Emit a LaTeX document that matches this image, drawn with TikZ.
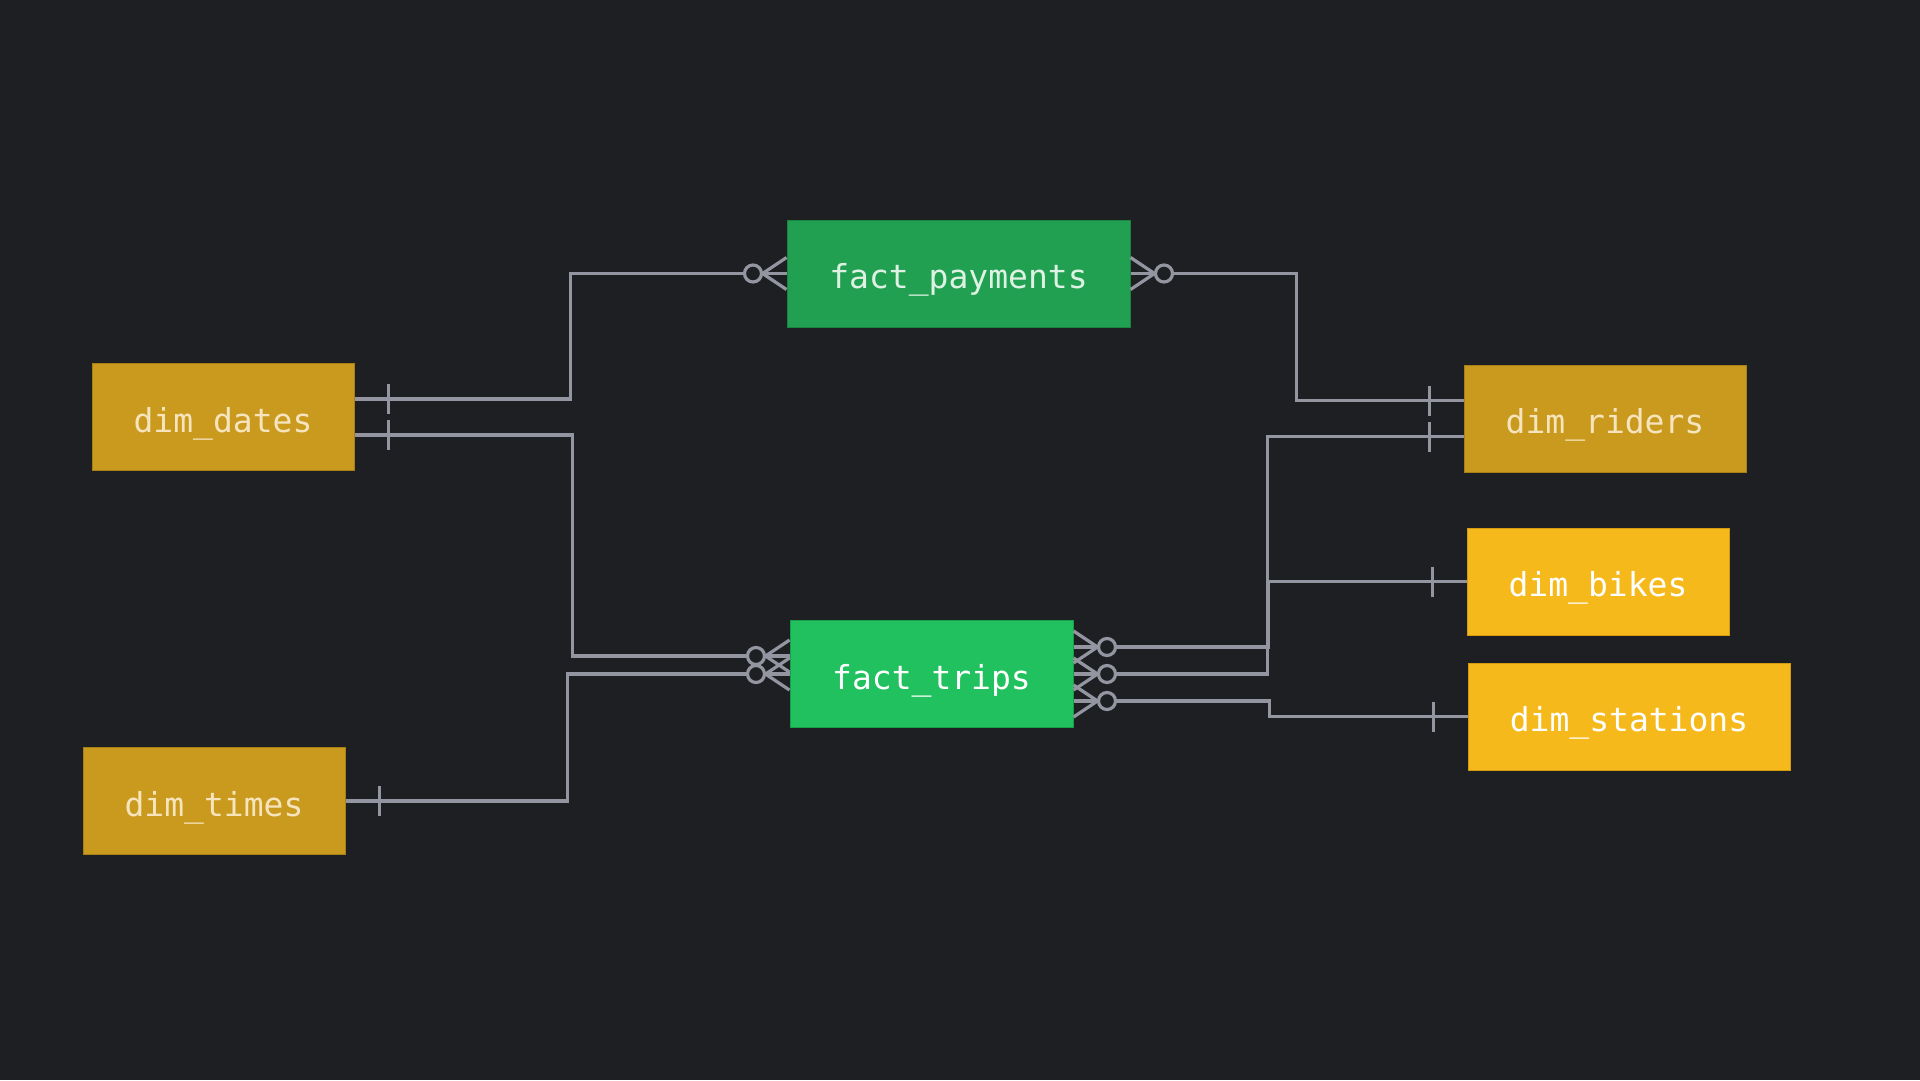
\documentclass[tikz,border=0pt]{standalone}
\usepackage{fontspec}
\setmonofont{DejaVu Sans Mono}
\usetikzlibrary{calc}
\definecolor{bgc}{HTML}{1E1F23}
\definecolor{dimdark}{HTML}{CA9A1E}
\definecolor{dimdarkedge}{HTML}{A87F14}
\definecolor{dimbright}{HTML}{F6B91C}
\definecolor{dimbrightedge}{HTML}{D49A10}
\definecolor{paygreen}{HTML}{21A052}
\definecolor{payedge}{HTML}{198540}
\definecolor{tripgreen}{HTML}{20C15E}
\definecolor{tripedge}{HTML}{17A04A}
\definecolor{linec}{HTML}{9396A0}
\definecolor{creamtxt}{HTML}{F5E4BC}
\definecolor{paytxt}{HTML}{DDF2E2}
\tikzset{
  entity/.style={rectangle, inner sep=0pt, minimum height=107pt, line width=1pt,
    text height=36pt, text depth=6pt,
    font=\fontsize{33}{33}\selectfont\ttfamily},
  dimd/.style={entity, fill=dimdark, draw=dimdarkedge, text=creamtxt},
  dimb/.style={entity, fill=dimbright, draw=dimbrightedge, text=white},
  factp/.style={entity, fill=paygreen, draw=payedge, text=paytxt},
  factt/.style={entity, fill=tripgreen, draw=tripedge, text=white},
  rel/.style={draw=linec, line width=3.2pt},
  zmany/.pic={
    \draw[rel] (0,-16) -- (24,0) -- (0,16);
    \draw[rel, fill=bgc] (33.5,0) circle (8.5);
  },
  onetick/.pic={
    \draw[rel] (34,-15) -- (34,15);
  }
}
\begin{document}
\begin{tikzpicture}[x=1pt,y=-1pt]
\fill[bgc] (0,0) rectangle (1920,1080);
\useasboundingbox (0,0) rectangle (1920,1080);

\node[factp, minimum width=343pt] (pay) at (958.5,273.5) {fact\_payments};
\node[factt, minimum width=283pt] (trips) at (931.5,674) {fact\_trips};
\node[dimd, minimum width=262pt] (dates) at (223,417) {dim\_dates};
\node[dimd, minimum width=262pt] (times) at (214,801) {dim\_times};
\node[dimd, minimum width=282pt] (riders) at (1605,418.7) {dim\_riders};
\node[dimb, minimum width=262pt] (bikes) at (1598,581.5) {dim\_bikes};
\node[dimb, minimum width=322pt] (stations) at (1629,716.7) {dim\_stations};

% connectors
\draw[rel] ($(dates.east)+(0,-18)$) -- ++(216,0) |- (pay.west);
\draw[rel] ($(dates.east)+(0,18)$) -- ++(218,0) |- ($(trips.west)+(0,-18)$);
\draw[rel] (times.east) -- ++(222,0) |- (trips.west);
\draw[rel] (pay.east) -- ++(166,0) |- ($(riders.west)+(0,-18)$);
\draw[rel] ($(riders.west)+(0,18)$) -- ++(-196,0) |- (trips.east);
\draw[rel] (bikes.west) -- ++(-198,0) |- ($(trips.east)+(0,-27)$);
\draw[rel] (stations.west) -- ++(-198,0) |- ($(trips.east)+(0,27)$);

% many ends
\path (pay.west) pic[rotate=180] {zmany};
\path (pay.east) pic {zmany};
\path ($(trips.west)+(0,-18)$) pic[rotate=180] {zmany};
\path (trips.west) pic[rotate=180] {zmany};
\path ($(trips.east)+(0,-27)$) pic {zmany};
\path (trips.east) pic {zmany};
\path ($(trips.east)+(0,27)$) pic {zmany};

% one ends
\path ($(dates.east)+(0,-18)$) pic {onetick};
\path ($(dates.east)+(0,18)$) pic {onetick};
\path (times.east) pic {onetick};
\path ($(riders.west)+(0,-18)$) pic[rotate=180] {onetick};
\path ($(riders.west)+(0,18)$) pic[rotate=180] {onetick};
\path (bikes.west) pic[rotate=180] {onetick};
\path (stations.west) pic[rotate=180] {onetick};
\end{tikzpicture}
\end{document}
